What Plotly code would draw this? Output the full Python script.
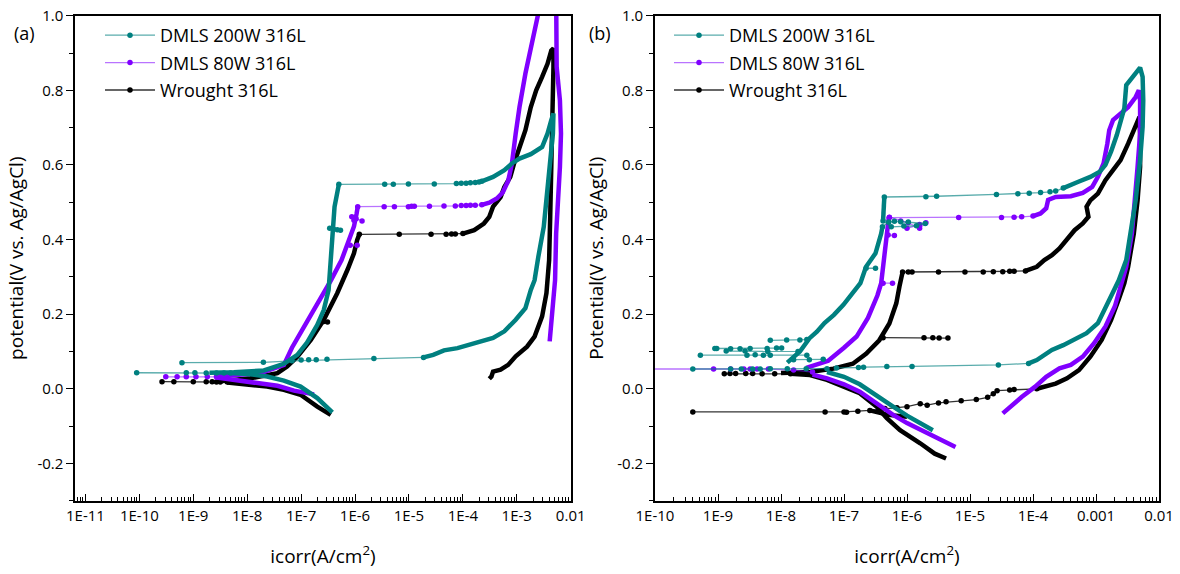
import plotly.graph_objects as go

# ---------------- DATA (log10 of current density in A/cm^2, potential in V) ----------------
# Each series is given as segments: (log10 i list, E list)
# "dense" = densely sampled parts of the scan, "sparse" = parts where individual points are visible

# ---- Panel (a) ----
a200_dense = [
    ([-6.42, -6.70, -7.01, -7.32, -7.63, -7.94, -8.31],
     [-0.063, -0.025, 0.006, 0.022, 0.033, 0.039, 0.042]),
    ([-8.70, -8.25, -7.69, -7.32, -7.07, -6.89, -6.70, -6.58, -6.49, -6.45, -6.42, -6.38, -6.30],
     [0.043, 0.044, 0.049, 0.067, 0.091, 0.124, 0.171, 0.211, 0.265, 0.345, 0.435, 0.488, 0.548]),
    ([-3.65, -3.44, -3.23, -3.09, -2.95, -2.74, -2.53, -2.43, -2.36, -2.32, -2.33, -2.38, -2.43, -2.50,
      -2.60, -2.67, -2.74, -2.84, -3.02, -3.23, -3.44, -3.65, -3.86, -4.10, -4.35, -4.55, -4.73],
     [0.556, 0.568, 0.586, 0.604, 0.617, 0.629, 0.648, 0.684, 0.720, 0.738, 0.684, 0.613, 0.523, 0.434,
      0.354, 0.291, 0.265, 0.216, 0.185, 0.154, 0.136, 0.127, 0.121, 0.109, 0.103, 0.091, 0.084]),
]
a200_sparse = [
    ([-8.31, -8.43, -8.57, -8.76, -8.97, -9.13, -10.05],
     [0.042, 0.042, 0.042, 0.042, 0.043, 0.043, 0.043]),
    ([-6.30, -5.45, -5.29, -5.01, -4.53, -4.12, -4.03, -3.94, -3.86, -3.77, -3.70, -3.65],
     [0.548, 0.548, 0.548, 0.549, 0.549, 0.550, 0.551, 0.551, 0.552, 0.553, 0.554, 0.556]),
    ([-4.73, -5.65, -6.52, -6.72, -6.86, -7.00, -7.17, -7.70, -9.21],
     [0.084, 0.081, 0.079, 0.078, 0.078, 0.077, 0.075, 0.071, 0.070]),
    ([-6.47, -6.40, -6.33, -6.27],
     [0.430, 0.428, 0.426, 0.425]),
]

a80_dense = [
    ([-6.76, -7.13, -7.44, -7.94, -8.37, -8.60],
     [-0.015, -0.005, 0.008, 0.018, 0.027, 0.031]),
    ([-8.60, -8.20, -7.75, -7.32, -7.17, -6.89, -6.64, -6.45, -6.25, -6.10, -6.02, -5.97, -5.95],
     [0.033, 0.036, 0.042, 0.064, 0.110, 0.180, 0.240, 0.290, 0.345, 0.399, 0.435, 0.470, 0.488]),
    ([-3.65, -3.51, -3.37, -3.26, -3.16, -3.09, -3.02, -2.95, -2.84, -2.74, -2.67, -2.61, -2.58],
     [0.493, 0.499, 0.510, 0.526, 0.557, 0.604, 0.684, 0.755, 0.845, 0.916, 0.970, 1.000, 1.050]),
    ([-2.27, -2.26, -2.20, -2.18, -2.20, -2.24, -2.27, -2.29, -2.32, -2.36, -2.39],
     [1.050, 0.862, 0.773, 0.684, 0.595, 0.506, 0.416, 0.291, 0.247, 0.176, 0.127]),
]
a80_sparse = [
    ([-8.39, -8.57, -8.74, -8.95, -9.13, -9.30, -9.51],
     [0.032, 0.032, 0.032, 0.032, 0.032, 0.032, 0.032]),
    ([-5.95, -5.46, -5.27, -5.01, -4.95, -4.90, -4.62, -4.35, -4.14, -4.03, -3.94, -3.86, -3.77, -3.65],
     [0.488, 0.488, 0.488, 0.488, 0.489, 0.489, 0.489, 0.490, 0.490, 0.491, 0.491, 0.492, 0.492, 0.493]),
    ([-6.09, -5.96],
     [0.385, 0.385]),
    ([-6.06, -6.02, -5.98, -5.87],
     [0.461, 0.452, 0.456, 0.450]),
]

aw_dense = [
    ([-6.45, -6.70, -7.01, -7.32, -7.63, -8.06, -8.37],
     [-0.070, -0.048, -0.016, -0.003, 0.006, 0.013, 0.017]),
    ([-8.50, -7.94, -7.44, -7.26, -7.07, -6.82, -6.58, -6.33, -6.14, -6.02, -5.96, -5.92],
     [0.020, 0.028, 0.042, 0.060, 0.086, 0.131, 0.185, 0.256, 0.319, 0.363, 0.399, 0.414]),
    ([-4.00, -3.79, -3.61, -3.51, -3.44, -3.30, -3.23, -3.12, -3.05, -2.95, -2.84, -2.74, -2.64, -2.53,
      -2.43, -2.36, -2.32, -2.32, -2.33, -2.36, -2.38, -2.40, -2.45, -2.53, -2.67, -2.81, -3.02, -3.16,
      -3.30, -3.44, -3.47, -3.51],
     [0.416, 0.425, 0.443, 0.461, 0.488, 0.514, 0.541, 0.568, 0.604, 0.648, 0.693, 0.755, 0.800, 0.836,
      0.871, 0.907, 0.912, 0.862, 0.729, 0.595, 0.461, 0.345, 0.256, 0.194, 0.140, 0.113, 0.087, 0.064,
      0.051, 0.046, 0.033, 0.027]),
]
aw_sparse = [
    ([-8.37, -8.50, -8.57, -8.65, -8.76, -9.00, -9.36, -9.58],
     [0.018, 0.018, 0.018, 0.019, 0.019, 0.019, 0.019, 0.019]),
    ([-5.92, -5.18, -4.59, -4.31, -4.21, -4.14, -4.00],
     [0.414, 0.414, 0.414, 0.414, 0.415, 0.415, 0.416]),
    ([-6.58, -6.51],
     [0.180, 0.179]),
]

# ---- Panel (b) ----
b200_dense = [
    ([-5.59, -5.79, -6.00, -6.22, -6.50, -6.75, -7.00, -7.27],
     [-0.111, -0.093, -0.072, -0.048, -0.018, 0.012, 0.032, 0.045]),
    ([-7.90, -7.70, -7.55, -7.43, -7.31, -7.16, -7.01, -6.86, -6.74, -6.65, -6.50, -6.41, -6.39],
     [0.070, 0.100, 0.135, 0.153, 0.176, 0.198, 0.225, 0.256, 0.283, 0.327, 0.363, 0.416, 0.434]),
    ([-6.38, -6.37, -6.36],
     [0.450, 0.480, 0.514]),
    ([-3.52, -3.40, -3.28, -3.09, -2.94, -2.85, -2.76, -2.67, -2.61, -2.55, -2.52, -2.43, -2.34, -2.30,
      -2.26, -2.25, -2.26, -2.30, -2.37, -2.43, -2.52, -2.64, -2.76, -2.85, -2.97, -3.15, -3.34, -3.52,
      -3.70, -3.79, -3.94, -4.07],
     [0.538, 0.548, 0.555, 0.568, 0.582, 0.600, 0.636, 0.680, 0.716, 0.752, 0.814, 0.832, 0.850, 0.861,
      0.836, 0.773, 0.702, 0.613, 0.506, 0.434, 0.345, 0.290, 0.248, 0.212, 0.176, 0.149, 0.131, 0.117,
      0.104, 0.093, 0.077, 0.068]),
]
b200_sparse = [
    ([-7.27, -7.60, -7.90, -8.17, -8.33, -8.45, -8.63, -8.80, -9.40],
     [0.054, 0.054, 0.054, 0.054, 0.053, 0.053, 0.053, 0.053, 0.053]),
    ([-9.05, -9.02, -8.80, -8.65, -8.49, -8.22, -8.07, -7.99],
     [0.108, 0.108, 0.107, 0.107, 0.108, 0.108, 0.109, 0.109]),
    ([-9.28, -8.54, -8.41, -8.28, -8.17, -7.59],
     [0.090, 0.090, 0.091, 0.090, 0.090, 0.090]),
    ([-8.17, -7.91, -7.70, -7.59],
     [0.130, 0.131, 0.131, 0.132]),
    ([-8.87, -8.57, -8.21, -7.73],
     [0.101, 0.101, 0.100, 0.100]),
    ([-7.80, -7.55, -7.33],
     [0.078, 0.078, 0.079]),
    ([-6.65, -6.50],
     [0.323, 0.323]),
    ([-6.39, -6.29, -6.20, -6.10, -5.98, -5.71, -5.85, -6.05, -6.25, -6.38],
     [0.434, 0.447, 0.449, 0.448, 0.447, 0.443, 0.437, 0.436, 0.434, 0.450]),
    ([-6.36, -5.70, -5.53, -4.58, -4.24, -4.06, -3.88, -3.73, -3.64, -3.52],
     [0.514, 0.515, 0.516, 0.521, 0.523, 0.524, 0.526, 0.528, 0.530, 0.538]),
    ([-4.07, -4.55, -5.92, -6.32, -6.69, -6.77, -7.12],
     [0.068, 0.064, 0.060, 0.060, 0.058, 0.057, 0.056]),
]

b80_dense = [
    ([-5.23, -5.50, -5.79, -6.00, -6.22, -6.50, -6.75, -7.00, -7.27, -7.50],
     [-0.156, -0.134, -0.111, -0.092, -0.070, -0.038, -0.008, 0.012, 0.028, 0.038]),
    ([-7.60, -7.25, -7.00, -6.80, -6.62, -6.47, -6.41, -6.38, -6.36, -6.33, -6.29, -6.28],
     [0.056, 0.075, 0.110, 0.140, 0.190, 0.250, 0.283, 0.330, 0.372, 0.417, 0.457, 0.462]),
    ([-4.00, -3.88, -3.79, -3.76, -3.64, -3.40, -3.21, -3.06, -2.97, -2.88, -2.82, -2.79, -2.73, -2.61,
      -2.49, -2.37, -2.32, -2.30, -2.30, -2.34, -2.38, -2.43, -2.52, -2.61, -2.70, -2.85, -3.03, -3.21,
      -3.40, -3.58, -3.79, -3.97, -4.18, -4.48],
     [0.463, 0.470, 0.484, 0.506, 0.514, 0.516, 0.525, 0.541, 0.568, 0.604, 0.657, 0.693, 0.720, 0.737,
      0.755, 0.782, 0.800, 0.773, 0.684, 0.595, 0.506, 0.416, 0.327, 0.274, 0.221, 0.167, 0.122, 0.086,
      0.064, 0.055, 0.032, 0.005, -0.022, -0.066]),
]
b80_sparse = [
    ([-7.50, -7.80, -8.20, -8.38, -8.49, -8.59, -8.80, -9.07, -10.60],
     [0.045, 0.050, 0.053, 0.053, 0.053, 0.053, 0.053, 0.053, 0.053]),
    ([-6.38, -6.23],
     [0.283, 0.283]),
    ([-6.30, -6.20],
     [0.412, 0.411]),
    ([-6.28, -6.10, -5.98, -5.80, -5.70, -5.80, -6.00],
     [0.460, 0.450, 0.445, 0.430, 0.445, 0.440, 0.430]),
    ([-6.28, -5.18, -4.50, -4.30, -4.18, -4.00],
     [0.459, 0.459, 0.459, 0.460, 0.461, 0.463]),
]

bw_dense = [
    ([-5.38, -5.56, -5.79, -5.95, -6.11, -6.32, -6.48, -6.75, -7.01, -7.27, -7.54, -7.85],
     [-0.187, -0.174, -0.146, -0.128, -0.111, -0.079, -0.048, -0.012, 0.005, 0.024, 0.037, 0.040]),
    ([-8.00, -7.54, -7.17, -6.86, -6.65, -6.44, -6.28, -6.17, -6.12, -6.08, -6.07],
     [0.042, 0.045, 0.054, 0.067, 0.094, 0.130, 0.175, 0.229, 0.274, 0.309, 0.313]),
    ([-4.12, -3.94, -3.82, -3.70, -3.58, -3.52, -3.43, -3.34, -3.21, -3.12, -3.15, -3.09, -2.97, -2.85,
      -2.73, -2.61, -2.49, -2.37, -2.31, -2.30, -2.30, -2.34, -2.40, -2.49, -2.55, -2.64, -2.76, -2.91,
      -3.09, -3.27, -3.46, -3.64, -3.82, -3.94],
     [0.316, 0.327, 0.345, 0.358, 0.376, 0.389, 0.407, 0.425, 0.443, 0.461, 0.488, 0.505, 0.523, 0.559,
      0.586, 0.613, 0.657, 0.702, 0.729, 0.684, 0.595, 0.505, 0.416, 0.327, 0.283, 0.239, 0.185, 0.131,
      0.086, 0.050, 0.028, 0.014, 0.005, 0.000]),
    ([-6.59, -6.30, -6.00],
     [-0.058, -0.070, -0.075]),
]
bw_sparse = [
    ([-7.85, -8.10, -8.30, -8.45, -8.56, -8.72, -8.81, -8.90],
     [0.040, 0.040, 0.040, 0.041, 0.041, 0.041, 0.041, 0.040]),
    ([-6.38, -5.73, -5.59, -5.49, -5.35],
     [0.137, 0.137, 0.137, 0.136, 0.136]),
    ([-6.07, -5.98, -5.92, -5.50, -5.08, -4.79, -4.63, -4.48, -4.37, -4.30, -4.12],
     [0.313, 0.313, 0.313, 0.313, 0.313, 0.313, 0.314, 0.314, 0.315, 0.315, 0.316]),
    ([-3.94, -4.30, -4.37, -4.57, -4.63, -4.72, -4.90, -5.14, -5.38, -5.50, -5.68, -5.79, -6.00,
      -6.16, -6.35, -6.59, -6.78, -6.96, -7.00, -7.30, -9.40],
     [0.000, -0.002, -0.003, -0.005, -0.013, -0.023, -0.029, -0.032, -0.035, -0.038, -0.044, -0.040,
      -0.048, -0.051, -0.053, -0.058, -0.060, -0.063, -0.062, -0.062, -0.062]),
]

SERIES_NAMES = ["DMLS 200W 316L", "DMLS 80W 316L", "Wrought 316L"]
COLORS = ["#008080", "#8000ff", "#000000"]
LINE_COLORS = ["rgba(0,128,128,0.65)", "rgba(128,0,255,0.55)", "rgba(0,0,0,0.8)"]

A_TICKVALS = [1e-11, 1e-10, 1e-9, 1e-8, 1e-7, 1e-6, 1e-5, 1e-4, 1e-3, 1e-2]
A_TICKTEXT = ["1E-11", "1E-10", "1E-9", "1E-8", "1E-7", "1E-6", "1E-5", "1E-4", "1E-3", "0.01"]
B_TICKVALS = [1e-10, 1e-9, 1e-8, 1e-7, 1e-6, 1e-5, 1e-4, 1e-3, 1e-2]
B_TICKTEXT = ["1E-10", "1E-9", "1E-8", "1E-7", "1E-6", "1E-5", "1E-4", "0.001", "0.01"]
Y_TICKVALS = [-0.2, 0.0, 0.2, 0.4, 0.6, 0.8, 1.0]
Y_TICKTEXT = ["-0.2", "0.0", "0.2", "0.4", "0.6", "0.8", "1.0"]

# ---------------- FIGURE ----------------
FONT = "Open Sans"


def join(segs):
    xs, ys = [], []
    for L, E in segs:
        if xs:
            xs.append(None)
            ys.append(None)
        xs += [10 ** v for v in L]
        ys += list(E)
    return xs, ys


fig = go.Figure()

panels = [
    ("x", "y", "legend", [(a200_dense, a200_sparse), (a80_dense, a80_sparse), (aw_dense, aw_sparse)]),
    ("x2", "y2", "legend2", [(b200_dense, b200_sparse), (b80_dense, b80_sparse), (bw_dense, bw_sparse)]),
]

for xa, ya, leg, series in panels:
    # draw black first, teal on top
    for idx in [2, 1, 0]:
        dense, sparse = series[idx]
        dx, dy = join(dense)
        sx, sy = join(sparse)
        fig.add_trace(go.Scatter(
            x=dx, y=dy, xaxis=xa, yaxis=ya, mode="lines",
            line=dict(color=COLORS[idx], width=4.5), showlegend=False,
            legendgroup=leg + str(idx), hoverinfo="skip"))
        fig.add_trace(go.Scatter(
            x=sx, y=sy, xaxis=xa, yaxis=ya, mode="lines+markers",
            name=SERIES_NAMES[idx], legend=leg, legendgroup=leg + str(idx), legendrank=idx + 1,
            line=dict(color=LINE_COLORS[idx], width=1.3),
            marker=dict(color=COLORS[idx], size=5.5)))

MINOR_X = [k * 10.0 ** n for n in range(-12, -1) for k in range(2, 10)]

common_x = dict(type="log", showline=True, linecolor="black", linewidth=1.6, mirror=True,
                ticks="inside", ticklen=7, tickwidth=1.3, tickcolor="black", showgrid=False,
                zeroline=False, automargin=False, tickfont=dict(family=FONT, size=15, color="black"),
                minor=dict(tickvals=MINOR_X, ticks="inside", ticklen=4, tickwidth=1, tickcolor="black",
                           showgrid=False),
                title=dict(text="icorr(A/cm<sup>2</sup>)", font=dict(family=FONT, size=19, color="black"),
                           standoff=26))
common_y = dict(range=[-0.3, 1.0], showline=True, linecolor="black", linewidth=1.6, mirror=True,
                ticks="outside", ticklen=7, tickwidth=1.3, tickcolor="black", showgrid=False,
                zeroline=False, automargin=False, tickvals=Y_TICKVALS, ticktext=Y_TICKTEXT,
                tickfont=dict(family=FONT, size=15, color="black"),
                minor=dict(dtick=0.1, tick0=0, ticks="outside", ticklen=4, tickwidth=1, tickcolor="black",
                           showgrid=False))

W, H = 1180, 574
fig.update_layout(
    width=W, height=H, margin=dict(l=0, r=0, t=0, b=0, autoexpand=False),
    paper_bgcolor="white", plot_bgcolor="white",
    font=dict(family=FONT, color="black"),
    xaxis=dict(domain=[75.2 / W, 570.7 / W], range=[-11.19, -2], anchor="y",
               tickvals=A_TICKVALS, ticktext=A_TICKTEXT, **common_x),
    xaxis2=dict(domain=[655 / W, 1159 / W], range=[-10, -2], anchor="y2",
                tickvals=B_TICKVALS, ticktext=B_TICKTEXT, **common_x),
    yaxis=dict(domain=[1 - 500.7 / H, 1 - 15.7 / H], anchor="x",
               title=dict(text="potential(V vs. Ag/AgCl)", font=dict(family=FONT, size=19, color="black"),
                          standoff=9), **common_y),
    yaxis2=dict(domain=[1 - 500.7 / H, 1 - 15.7 / H], anchor="x2",
                title=dict(text="Potential(V vs. Ag/AgCl)", font=dict(family=FONT, size=19, color="black"),
                           standoff=9), **common_y),
    legend=dict(x=100 / W, y=1 - 17 / H, xanchor="left", yanchor="top", bgcolor="rgba(0,0,0,0)",
                font=dict(family=FONT, size=18, color="black"), traceorder="grouped", tracegroupgap=1,
                itemwidth=50),
    legend2=dict(x=669 / W, y=1 - 17 / H, xanchor="left", yanchor="top", bgcolor="rgba(0,0,0,0)",
                 font=dict(family=FONT, size=18, color="black"), traceorder="grouped", tracegroupgap=1,
                 itemwidth=50),
    annotations=[
        dict(text="(a)", x=24 / W, y=1 - 33 / H, xref="paper", yref="paper", showarrow=False,
             xanchor="center", yanchor="middle", font=dict(family=FONT, size=18, color="black")),
        dict(text="(b)", x=600 / W, y=1 - 33 / H, xref="paper", yref="paper", showarrow=False,
             xanchor="center", yanchor="middle", font=dict(family=FONT, size=18, color="black")),
    ],
)

fig.write_html("out.html", config={"displayModeBar": False},
               post_script="document.body.style.margin='0';")
